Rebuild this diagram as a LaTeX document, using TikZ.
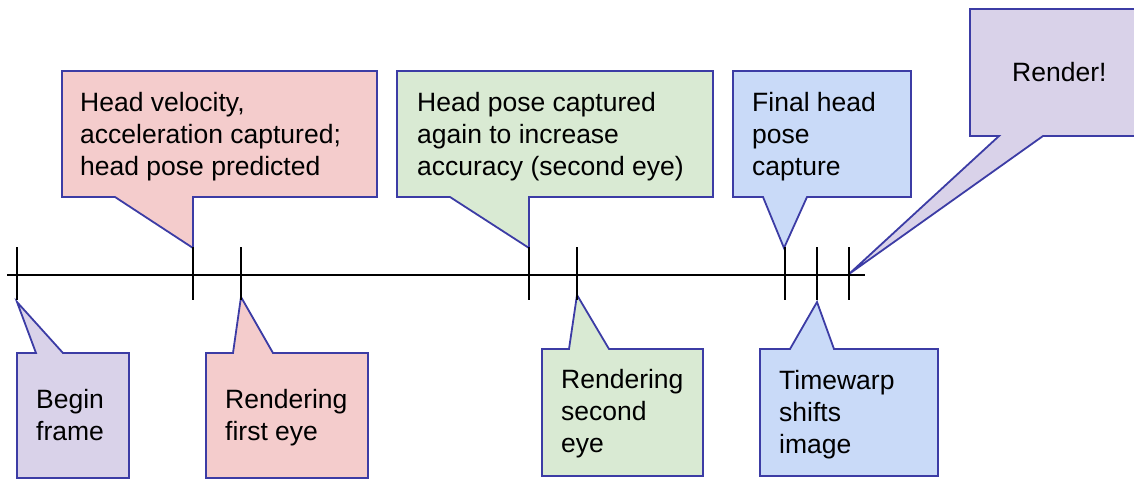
\documentclass[tikz,border=0pt]{standalone}
\usepackage{fontspec}
\setmainfont{Liberation Sans}
\definecolor{edge}{RGB}{60,60,165}
\definecolor{lilac}{HTML}{D9D2E9}
\definecolor{rose}{HTML}{F4CCCC}
\definecolor{mint}{HTML}{D9EAD3}
\definecolor{sky}{HTML}{C9DAF8}
\tikzset{
  callout/.style={draw=edge, line width=1.8pt, line join=miter},
  label/.style={anchor=base west, inner sep=0pt, align=left,
    font=\fontsize{26.5}{31.8}\selectfont},
  timeline/.style={draw=black, line width=1.8pt},
}
\begin{document}
\begin{tikzpicture}[x=1pt,y=-1pt]
\useasboundingbox (0,0) rectangle (1134,482);
% tick positions
\coordinate (t1) at (17,275);
\coordinate (t2) at (193,275);
\coordinate (t3) at (241,275);
\coordinate (t4) at (529,275);
\coordinate (t5) at (577,275);
\coordinate (t6) at (785,275);
\coordinate (t7) at (817,275);
\coordinate (t8) at (849,275);
\coordinate (ls) at (7,275);
\coordinate (le) at (865,275);
% callouts
\path[callout, fill=lilac] (17,478) -- (17,353) -- (36,353) -- (17,302) -- (63,353) -- (129,353) -- (129,478) -- cycle;
\path[callout, fill=rose] (62,71) -- (377,71) -- (377,197) -- (193,197) -- (193,248) -- (115,197) -- (62,197) -- cycle;
\path[callout, fill=rose] (206,353) -- (233,353) -- (241,297) -- (273,353) -- (368,353) -- (368,478) -- (206,478) -- cycle;
\path[callout, fill=mint] (397,71) -- (713,71) -- (713,197) -- (529,197) -- (529,248) -- (450,197) -- (397,197) -- cycle;
\path[callout, fill=mint] (542,349) -- (569,349) -- (577,295) -- (609,349) -- (703,349) -- (703,476) -- (542,476) -- cycle;
\path[callout, fill=sky] (733,71) -- (911,71) -- (911,197) -- (807,197) -- (784,248) -- (763,197) -- (733,197) -- cycle;
\path[callout, fill=sky] (760,349) -- (790,349) -- (817,302) -- (834,349) -- (938,349) -- (938,476) -- (760,476) -- cycle;
\path[callout, fill=lilac] (970,9) -- (1145,9) -- (1145,136) -- (1043,136) -- (849,274) -- (999,136) -- (970,136) -- cycle;
% timeline
\draw[timeline] (ls) -- (le);
\foreach \t in {t1,t2,t3,t4,t5,t6,t7,t8}
  \draw[timeline] (\t) ++(0,-28) -- ++(0,53);
% texts (anchor at baseline of last line)
\node[label] (begin) at (36,440) {Begin\\frame};
\node[label] (headvel) at (80,175) {Head velocity,\\acceleration captured;\\head pose predicted};
\node[label] (first) at (225,440) {Rendering\\first eye};
\node[label] (again) at (417,175) {Head pose captured\\again to increase\\accuracy (second eye)};
\node[label] (second) at (561,452) {Rendering\\second\\eye};
\node[label] (final) at (752,175) {Final head\\pose\\capture};
\node[label] (warp) at (779,453) {Timewarp\\shifts\\image};
\node[label] (render) at (1012,81) {Render!};
\end{tikzpicture}
\end{document}
